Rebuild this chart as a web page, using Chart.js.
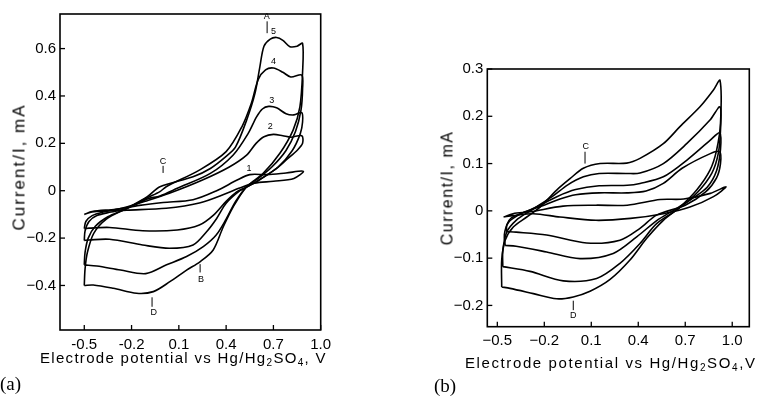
<!DOCTYPE html>
<html><head><meta charset="utf-8">
<script src="https://cdn.jsdelivr.net/npm/chart.js@4.4.0/dist/chart.umd.min.js"></script>
<style>
html,body{margin:0;padding:0;background:#fff;width:765px;height:401px;overflow:hidden;position:relative;font-family:"Liberation Sans",Arial,sans-serif;}
canvas{position:absolute;top:0;}
#ca{left:0}
#cb{left:380px}
.t{position:absolute;white-space:nowrap;color:#000;font-size:15px;line-height:17px;}
.t sub{font-size:10px;vertical-align:-3px;line-height:0;}
.rot{transform:translate(-50%,-50%) rotate(-90deg);}
.pl{font-family:"Liberation Serif","DejaVu Serif",serif;font-size:19px;}
</style></head><body>
<canvas id="ca" width="380" height="401"></canvas>
<canvas id="cb" width="385" height="401"></canvas>
<div class="t rot" style="left:19px;top:167px;font-size:17px;letter-spacing:2px;">Current/I, mA</div>
<div class="t" style="left:40px;top:349px;letter-spacing:1.3px;">Electrode potential vs Hg/Hg<sub>2</sub>SO<sub>4</sub>, V</div>
<div class="t pl" style="left:0px;top:375px;">(a)</div>
<div class="t rot" style="left:447px;top:188px;font-size:16px;letter-spacing:1.5px;">Current/I, mA</div>
<div class="t" style="left:465px;top:354px;letter-spacing:1.6px;">Electrode potential vs Hg/Hg<sub>2</sub>SO<sub>4</sub>,V</div>
<div class="t pl" style="left:434px;top:377px;">(b)</div>
<script>
// ---------- Panel (a) data ----------
const xTicksA = [-0.5, -0.2, 0.1, 0.4, 0.7, 1.0];
const yTicksA = [-0.4, -0.2, 0, 0.2, 0.4, 0.6];
const a1 = [[-0.5,-0.10],[-0.45,-0.088],[-0.3,-0.078],[-0.15,-0.062],[0.0,-0.05],[0.19,-0.038],[0.34,0.0],[0.47,0.045],[0.55,0.068],[0.66,0.068],[0.78,0.075],[0.89,0.082],
  [0.83,0.052],[0.70,0.040],[0.58,0.032],[0.48,0.01],[0.40,-0.012],[0.23,-0.052],[0.02,-0.074],[-0.23,-0.082],[-0.45,-0.09],[-0.5,-0.10]];
const a2 = [[-0.5,-0.16],[-0.49,-0.13],[-0.45,-0.105],[-0.38,-0.09],[-0.25,-0.072],[-0.1,-0.042],[0.04,-0.011],[0.25,0.045],[0.42,0.10],[0.53,0.15],[0.59,0.20],[0.64,0.228],[0.70,0.238],[0.76,0.232],[0.81,0.226],[0.88,0.232],
  [0.885,0.20],[0.85,0.17],[0.79,0.135],[0.72,0.094],[0.61,0.045],[0.52,0.012],[0.467,-0.005],[0.40,-0.045],[0.32,-0.103],[0.23,-0.145],[0.09,-0.166],[-0.13,-0.169],[-0.34,-0.155],[-0.47,-0.158],[-0.5,-0.16]];
const a3 = [[-0.5,-0.21],[-0.495,-0.17],[-0.47,-0.13],[-0.42,-0.105],[-0.33,-0.09],[-0.23,-0.075],[-0.1,-0.035],[-0.02,-0.022],[0.09,0.01],[0.30,0.073],[0.445,0.151],[0.54,0.242],[0.593,0.312],[0.63,0.345],[0.67,0.356],[0.72,0.35],[0.78,0.325],[0.83,0.32],[0.88,0.33],
  [0.885,0.29],[0.87,0.24],[0.82,0.17],[0.73,0.10],[0.62,0.05],[0.53,0.015],[0.487,0.0],[0.40,-0.053],[0.34,-0.117],[0.276,-0.173],[0.19,-0.229],[0.04,-0.243],[-0.13,-0.229],[-0.34,-0.205],[-0.47,-0.208],[-0.5,-0.21]];
const a4 = [[-0.5,-0.313],[-0.495,-0.26],[-0.475,-0.20],[-0.43,-0.15],[-0.35,-0.11],[-0.24,-0.078],[-0.1,-0.03],[-0.02,-0.004],[0.02,0.017],[0.23,0.087],[0.40,0.165],[0.50,0.27],[0.56,0.369],[0.604,0.47],[0.65,0.51],[0.70,0.518],[0.76,0.50],[0.81,0.48],[0.88,0.488],
  [0.885,0.43],[0.875,0.34],[0.84,0.25],[0.78,0.17],[0.69,0.10],[0.60,0.05],[0.53,0.017],[0.46,-0.045],[0.40,-0.12],[0.337,-0.187],[0.255,-0.236],[0.149,-0.278],[0.022,-0.313],[-0.11,-0.35],[-0.27,-0.335],[-0.42,-0.318],[-0.5,-0.313]];
const a5 = [[-0.5,-0.40],[-0.495,-0.33],[-0.48,-0.26],[-0.44,-0.18],[-0.36,-0.12],[-0.23,-0.074],[-0.10,-0.025],[-0.02,0.017],[0.19,0.059],[0.30,0.094],[0.40,0.145],[0.46,0.185],[0.53,0.298],[0.583,0.411],[0.614,0.523],[0.64,0.61],[0.68,0.64],[0.72,0.647],[0.76,0.635],[0.805,0.608],[0.85,0.61],[0.885,0.622],
  [0.885,0.50],[0.868,0.354],[0.825,0.256],[0.741,0.158],[0.635,0.073],[0.53,0.017],[0.445,-0.068],[0.382,-0.152],[0.318,-0.25],[0.234,-0.30],[0.149,-0.335],[0.043,-0.384],[-0.062,-0.426],[-0.168,-0.433],[-0.316,-0.412],[-0.443,-0.398],[-0.5,-0.40]];
const notesA = [
  {t:'A', x:0.657, y:0.735}, {t:'5', x:0.70, y:0.672}, {t:'4', x:0.70, y:0.545}, {t:'3', x:0.69, y:0.38},
  {t:'2', x:0.68, y:0.27}, {t:'1', x:0.545, y:0.095}, {t:'C', x:0.0, y:0.125}, {t:'B', x:0.24, y:-0.375}, {t:'D', x:-0.06, y:-0.515}
];
const arrowsA = [[0.66,0.715,0.665],[0.0,0.105,0.075],[0.235,-0.345,-0.31],[-0.07,-0.49,-0.45]];

// ---------- Panel (b) data ----------
const xTicksB = [-0.5, -0.2, 0.1, 0.4, 0.7, 1.0];
const yTicksB = [-0.2, -0.1, 0, 0.1, 0.2, 0.3];
const b1 = [[-0.46,-0.013],[-0.40,-0.006],[-0.29,-0.002],[-0.08,0.01],[0.13,0.012],[0.33,0.012],[0.54,0.024],[0.69,0.025],[0.86,0.037],[0.96,0.051],
  [0.88,0.03],[0.73,0.008],[0.56,-0.006],[0.35,-0.016],[0.13,-0.02],[-0.10,-0.013],[-0.27,-0.006],[-0.40,-0.01],[-0.46,-0.013]];
const b2 = [[-0.44,-0.044],[-0.44,-0.03],[-0.41,-0.015],[-0.33,-0.003],[-0.22,0.01],[-0.1,0.025],[0.0,0.034],[0.15,0.038],[0.33,0.038],[0.45,0.042],[0.56,0.058],[0.68,0.09],[0.86,0.121],[0.92,0.125],
  [0.925,0.10],[0.90,0.07],[0.83,0.04],[0.70,0.012],[0.517,-0.009],[0.411,-0.037],[0.283,-0.062],[0.07,-0.068],[-0.185,-0.051],[-0.38,-0.045],[-0.44,-0.044]];
const b3 = [[-0.45,-0.073],[-0.455,-0.05],[-0.43,-0.025],[-0.36,-0.008],[-0.25,0.008],[-0.12,0.03],[0.0,0.045],[0.15,0.053],[0.33,0.054],[0.411,0.058],[0.56,0.072],[0.709,0.107],[0.858,0.149],[0.92,0.165],
  [0.925,0.13],[0.90,0.085],[0.84,0.05],[0.74,0.025],[0.62,0.0],[0.52,-0.02],[0.39,-0.055],[0.24,-0.09],[0.028,-0.101],[-0.185,-0.087],[-0.38,-0.075],[-0.45,-0.073]];
const b4 = [[-0.465,-0.118],[-0.465,-0.085],[-0.44,-0.045],[-0.38,-0.02],[-0.29,0.0],[-0.15,0.03],[-0.05,0.055],[0.05,0.072],[0.15,0.079],[0.33,0.079],[0.411,0.08],[0.56,0.10],[0.709,0.142],[0.858,0.192],[0.922,0.22],
  [0.925,0.17],[0.91,0.12],[0.87,0.08],[0.78,0.04],[0.66,0.005],[0.517,-0.027],[0.411,-0.069],[0.283,-0.111],[0.134,-0.143],[-0.079,-0.148],[-0.291,-0.128],[-0.465,-0.118]];
const b5 = [[-0.472,-0.161],[-0.472,-0.104],[-0.45,-0.062],[-0.398,-0.034],[-0.312,-0.013],[-0.227,0.008],[-0.121,0.044],[-0.036,0.068],[0.049,0.09],[0.156,0.10],[0.326,0.101],[0.411,0.111],[0.56,0.142],[0.666,0.178],[0.794,0.22],[0.879,0.255],[0.922,0.276],
  [0.925,0.185],[0.90,0.128],[0.858,0.086],[0.773,0.044],[0.666,0.008],[0.56,-0.02],[0.454,-0.058],[0.347,-0.104],[0.22,-0.145],[0.092,-0.17],[-0.015,-0.182],[-0.121,-0.186],[-0.27,-0.175],[-0.419,-0.164],[-0.472,-0.161]];
const notesB = [{t:'C', x:0.064, y:0.137}, {t:'D', x:-0.015, y:-0.222}];
const arrowsB = [[0.06,0.125,0.1],[-0.015,-0.21,-0.19]];

const frame = {
  id:'frame',
  afterDatasetsDraw(chart, args, o){
    const {ctx, chartArea:a, scales:{x,y}} = chart;
    ctx.save();
    ctx.strokeStyle='#000'; ctx.fillStyle='#000';
    ctx.lineWidth=1.6;
    ctx.strokeRect(a.left,a.top,a.right-a.left,a.bottom-a.top);
    ctx.lineWidth=1.3;
    x.ticks.forEach(t=>{const p=x.getPixelForValue(t.value);ctx.beginPath();ctx.moveTo(p,a.bottom);ctx.lineTo(p,a.bottom-5);ctx.stroke();});
    y.ticks.forEach(t=>{const p=y.getPixelForValue(t.value);ctx.beginPath();ctx.moveTo(a.left,p);ctx.lineTo(a.left+5,p);ctx.stroke();});
    ctx.font='9px "Liberation Sans", Arial, sans-serif';
    ctx.textAlign='center'; ctx.textBaseline='middle';
    (o.notes||[]).forEach(n=>ctx.fillText(n.t, x.getPixelForValue(n.x), y.getPixelForValue(n.y)));
    ctx.lineWidth=1;
    (o.arrows||[]).forEach(r=>{const px=x.getPixelForValue(r[0]);ctx.beginPath();ctx.moveTo(px,y.getPixelForValue(r[1]));ctx.lineTo(px,y.getPixelForValue(r[2]));ctx.stroke();});
    ctx.restore();
  }
};

function ds(arr){
  return {data: arr.map(p=>({x:p[0], y:p[1]})), showLine:true, borderColor:'#000', borderWidth:1.6,
    pointRadius:0, tension:0.3, fill:false};
}
const fmtA = v => v===0 ? '0' : (v<0?'-':'')+Math.abs(v).toFixed(1);
const fmtM = v => v===0 ? '0' : (v<0?'\u2212':'')+Math.abs(v).toFixed(1);

function make(id, sets, cfg){
  return new Chart(document.getElementById(id), {
    type:'scatter',
    data:{datasets: sets.map(ds)},
    plugins:[frame],
    options:{
      responsive:false, animation:false, devicePixelRatio:1,
      layout:{padding:cfg.pad},
      plugins:{legend:{display:false}, tooltip:{enabled:false}, frame:{notes:cfg.notes, arrows:cfg.arrows}},
      scales:{
        x:{type:'linear', min:cfg.xmin, max:cfg.xmax,
          grid:{display:false, drawTicks:false}, border:{display:false},
          afterBuildTicks:s=>{s.ticks=cfg.xt.map(v=>({value:v}));},
          afterFit:s=>{s.height=cfg.xh;},
          ticks:{color:'#000', font:{size:15, family:'"Liberation Sans", Arial, sans-serif'}, padding:cfg.xpad, autoSkip:false, maxRotation:0, callback:cfg.fx}},
        y:{type:'linear', min:cfg.ymin, max:cfg.ymax,
          grid:{display:false, drawTicks:false}, border:{display:false},
          afterBuildTicks:s=>{s.ticks=cfg.yt.map(v=>({value:v}));},
          afterFit:s=>{s.width=cfg.yw;},
          ticks:{color:'#000', font:{size:15, family:'"Liberation Sans", Arial, sans-serif'}, padding:4, autoSkip:false, callback:fmtM}}
      }
    }
  });
}

make('ca', [a1,a2,a3,a4,a5], {pad:{left:0,top:14,right:59.3,bottom:0}, xmin:-0.654, xmax:1.0, ymin:-0.588, ymax:0.746,
  xt:xTicksA, yt:yTicksA, xh:71, yw:60, xpad:6, fx:fmtA, notes:notesA, arrows:arrowsA});
make('cb', [b1,b2,b3,b4,b5], {pad:{left:0,top:69,right:15.7,bottom:0}, xmin:-0.564, xmax:1.109, ymin:-0.245, ymax:0.3,
  xt:xTicksB, yt:yTicksB, xh:74.3, yw:107.3, xpad:5, fx:fmtM, notes:notesB, arrows:arrowsB});
</script>
</body></html>
